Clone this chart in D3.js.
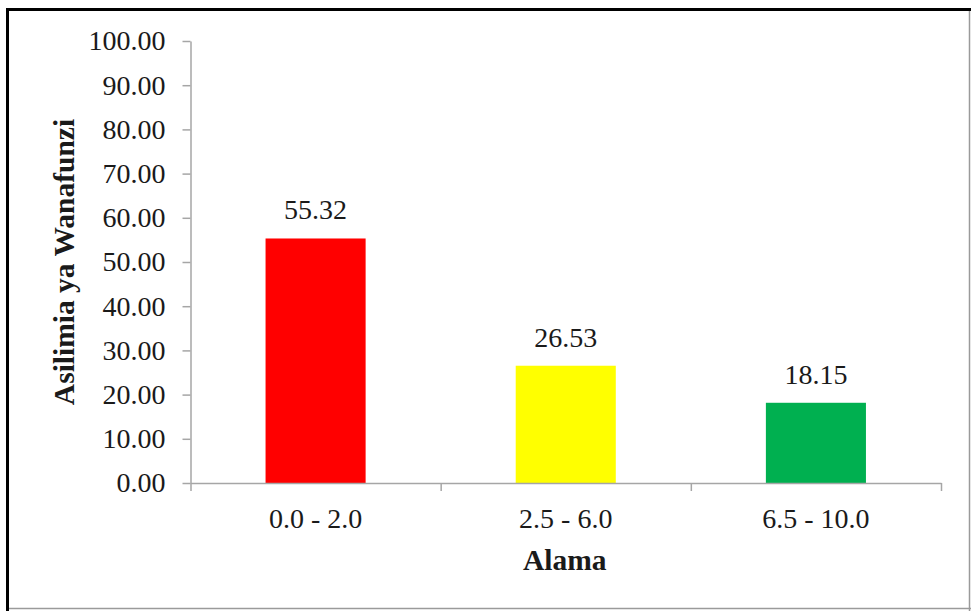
<!DOCTYPE html>
<html>
<head>
<meta charset="utf-8">
<script src="https://cdn.jsdelivr.net/npm/d3@7"></script>
<style>
  body { margin: 0; background: #fff; }
  svg text { font-family: "Liberation Serif", "Times New Roman", serif; fill: #1a1a1a; }
</style>
</head>
<body>
<div id="chart"></div>
<script>
// Data
var categories = ["0.0 - 2.0", "2.5 - 6.0", "6.5 - 10.0"];
var percentages = [55.32, 26.53, 18.15];
var barColors = ["#ff0000", "#ffff00", "#00b050"];
var yTickValues = [0, 10, 20, 30, 40, 50, 60, 70, 80, 90, 100];

var width = 971;
var height = 611;
var plotLeft = 190.5, plotRight = 941, plotTop = 41, plotBottom = 483;
var fontSize = "28px";
var titleSize = "29.5px";

var svg = d3.select("#chart")
    .append("svg")
    .attr("width", width)
    .attr("height", height);

// frame: heavy black top/left, thin grey right/bottom
svg.append("line").attr("x1", 6).attr("x2", 971).attr("y1", 9.5).attr("y2", 9.5)
    .attr("stroke", "#000").attr("stroke-width", 3);
svg.append("line").attr("x1", 7.5).attr("x2", 7.5).attr("y1", 8).attr("y2", 611)
    .attr("stroke", "#000").attr("stroke-width", 3);
svg.append("line").attr("x1", 969.5).attr("x2", 969.5).attr("y1", 11).attr("y2", 611)
    .attr("stroke", "#9a9a9a").attr("stroke-width", 1.5);
svg.append("line").attr("x1", 9).attr("x2", 971).attr("y1", 608.5).attr("y2", 608.5)
    .attr("stroke", "#9a9a9a").attr("stroke-width", 1.5);

// scales
var yScale = d3.scaleLinear().domain([0, 100]).range([plotBottom, plotTop]);
var xScale = d3.scaleBand().domain(categories).range([plotLeft, plotRight])
    .paddingInner(0.6).paddingOuter(0.3);
var xEdges = d3.scaleLinear().domain([0, categories.length]).range([plotLeft, plotRight]);

// bars
svg.selectAll(".bar")
    .data(percentages)
    .enter()
    .append("rect")
    .attr("class", "bar")
    .attr("x", function(d, i) { return xScale(categories[i]); })
    .attr("y", function(d) { return yScale(d); })
    .attr("width", xScale.bandwidth())
    .attr("height", function(d) { return yScale(0) - yScale(d); })
    .attr("fill", function(d, i) { return barColors[i]; });

// value labels
svg.selectAll(".value")
    .data(percentages)
    .enter()
    .append("text")
    .attr("class", "value")
    .attr("x", function(d, i) { return xScale(categories[i]) + xScale.bandwidth() / 2; })
    .attr("y", function(d) { return yScale(d) - 19; })
    .attr("text-anchor", "middle")
    .style("font-size", fontSize)
    .text(function(d) { return d.toFixed(2); });

// y axis
var yAxis = d3.axisLeft(yScale)
    .tickValues(yTickValues)
    .tickFormat(d3.format(".2f"))
    .tickSize(8)
    .tickSizeOuter(0)
    .tickPadding(17);

var gy = svg.append("g")
    .attr("transform", "translate(" + plotLeft + ",0)")
    .call(yAxis);
gy.selectAll("text").style("font-size", fontSize).attr("fill", "#1a1a1a");

// x axis: ticks at category boundaries
var xAxis = d3.axisBottom(xEdges)
    .tickValues(d3.range(categories.length + 1))
    .tickFormat("")
    .tickSize(8)
    .tickSizeOuter(0);

svg.append("g")
    .attr("transform", "translate(0," + plotBottom + ")")
    .call(xAxis);

svg.selectAll(".domain, .tick line")
    .attr("stroke", "#a6a6a6")
    .attr("stroke-width", 1.5);

// category labels
svg.selectAll(".cat")
    .data(categories)
    .enter()
    .append("text")
    .attr("class", "cat")
    .attr("x", function(d) { return xScale(d) + xScale.bandwidth() / 2; })
    .attr("y", plotBottom + 45)
    .attr("text-anchor", "middle")
    .style("font-size", fontSize)
    .text(function(d) { return d; });

// axis titles
svg.append("text")
    .attr("x", (plotLeft + plotRight) / 2 - 1)
    .attr("y", 570)
    .attr("text-anchor", "middle")
    .style("font-size", titleSize)
    .style("font-weight", "bold")
    .text("Alama");

svg.append("text")
    .attr("transform", "translate(74," + ((plotTop + plotBottom) / 2) + ") rotate(-90)")
    .attr("text-anchor", "middle")
    .style("font-size", titleSize)
    .style("font-weight", "bold")
    .text("Asilimia ya Wanafunzi");
</script>
</body>
</html>
